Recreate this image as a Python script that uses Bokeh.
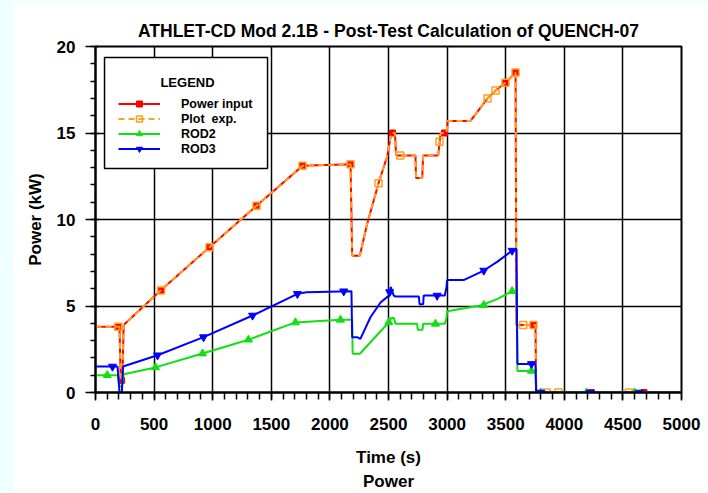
from bokeh.plotting import figure
from bokeh.models import (Legend, LegendItem, Title, SingleIntervalTicker, Range1d, BoxAnnotation)
from bokeh.core.properties import value
from bokeh.embed import file_html
from bokeh.resources import INLINE

FONT = "Liberation Sans"

# ---------------- data ----------------
power_t = [0, 188, 205, 215, 230, 240, 555, 973, 1374, 1766, 2176, 2190, 2255, 2318, 2415, 2491,
           2523, 2555, 2565, 2730, 2735, 2788, 2795, 2924, 2945, 2995, 3005, 3200, 3345, 3413,
           3498, 3584, 3592, 3754, 3760, 5000]
power_kw = [3.8, 3.8, 3.8, 0.7, 0.7, 3.9, 5.9, 8.4, 10.8, 13.1, 13.2, 7.9, 7.9, 9.75, 12.1, 13.7,
            15.0, 15.0, 13.7, 13.7, 12.4, 12.4, 13.7, 13.7, 15.0, 15.0, 15.7, 15.7, 17.0, 17.45,
            17.9, 18.5, 3.9, 3.9, 0.0, 0.0]
power_mk_t = [188, 222, 555, 973, 1374, 1766, 2176, 2535, 2978, 3498, 3584, 3737, 4230, 4680]
power_mk_kw = [3.8, 0.7, 5.9, 8.4, 10.8, 13.1, 13.2, 15.0, 15.0, 17.9, 18.5, 3.9, 0.0, 0.0]

exp_t = [0, 188, 205, 215, 230, 240, 555, 973, 1374, 1766, 2176, 2190, 2255, 2318, 2415, 2491,
         2523, 2555, 2565, 2730, 2735, 2788, 2795, 2924, 2945, 2995, 3005, 3200, 3345, 3413,
         3498, 3584, 3592, 3754, 3760, 5000]
exp_kw = [3.8, 3.8, 3.8, 0.7, 0.7, 3.9, 5.9, 8.4, 10.8, 13.1, 13.2, 7.9, 7.9, 9.75, 12.1, 13.7,
          15.0, 15.0, 13.7, 13.7, 12.4, 12.4, 13.7, 13.7, 15.0, 15.0, 15.7, 15.7, 17.0, 17.45,
          17.9, 18.5, 3.9, 3.9, 0.0, 0.0]
exp_mk_t = [195, 560, 973, 1374, 1766, 2176, 2415, 2600, 2935, 3345, 3413, 3498, 3584, 3650,
            3737, 3850, 3950, 4550]
exp_mk_kw = [3.8, 5.9, 8.4, 10.8, 13.1, 13.2, 12.1, 13.7, 14.5, 17.0, 17.45, 17.9, 18.5, 3.9,
             3.9, 0.0, 0.0, 0.0]

rod2_t = [0, 188, 205, 225, 240, 512, 913, 1305, 1706, 2090, 2190, 2194, 2256, 2503, 2523, 2545,
          2560, 2744, 2750, 2790, 2796, 2980, 2995, 3000, 3285, 3427, 3555, 3592, 3600, 3754,
          3760, 5000]
rod2_kw = [1.0, 1.0, 0.35, 0.35, 1.05, 1.45, 2.25, 3.05, 4.05, 4.2, 4.2, 2.24, 2.24, 4.06, 4.3,
           4.3, 3.97, 3.97, 3.62, 3.62, 3.97, 3.97, 4.3, 4.7, 5.03, 5.4, 5.86, 5.9, 1.25, 1.25,
           0.0, 0.0]
rod2_mk_t = [100, 512, 913, 1305, 1706, 2090, 2503, 2901, 3313, 3555, 3720, 3800, 4190, 4600]
rod2_mk_kw = [1.0, 1.45, 2.25, 3.05, 4.05, 4.2, 4.06, 3.97, 5.05, 5.86, 1.25, 0.0, 0.0, 0.0]

rod3_t = [0, 188, 205, 225, 235, 529, 922, 1340, 1723, 1800, 2184, 2190, 2232, 2260, 2346, 2432,
          2503, 2520, 2545, 2560, 2759, 2765, 2796, 2800, 2980, 2995, 3000, 3141, 3313, 3427,
          3555, 3592, 3600, 3754, 3760, 5000]
rod3_kw = [1.5, 1.5, 0.0, 0.0, 1.5, 2.15, 3.2, 4.45, 5.7, 5.8, 5.85, 3.2, 3.2, 3.1, 4.35, 5.2,
           5.6, 6.1, 5.6, 5.55, 5.55, 5.1, 5.1, 5.6, 5.6, 6.1, 6.5, 6.5, 7.05, 7.55, 8.2, 8.3,
           1.65, 1.65, 0.0, 0.0]
rod3_mk_t = [145, 529, 922, 1340, 1723, 2118, 2510, 2915, 3313, 3555, 3720, 3800, 4220, 4640]
rod3_mk_kw = [1.5, 2.15, 3.2, 4.45, 5.7, 5.85, 5.8, 5.6, 7.05, 8.2, 1.65, 0.0, 0.0, 0.0]

series_names = ["Power input", "Plot  exp.", "ROD2", "ROD3"]
title_text = "ATHLET-CD Mod 2.1B - Post-Test Calculation of QUENCH-07"
x_label = "Time (s)"
y_label = "Power (kW)"
caption = "Power"
legend_title = "LEGEND"

RED, ORANGE, GREEN, BLUE = "#ff0000", "#ffa01e", "#10e010", "#0000ff"

# ---------------- figure ----------------
p = figure(frame_width=586, frame_height=346,
           x_range=Range1d(0, 5000), y_range=Range1d(0, 20),
           output_backend="svg", toolbar_location=None,
           min_border_left=83, min_border_right=27, min_border_top=44, min_border_bottom=101,
           background_fill_color="white", border_fill_color="white")

p.outline_line_color = "black"
p.outline_line_width = 2

p.title.text = title_text
p.title.align = "center"
p.title.text_font = FONT
p.title.text_font_size = "17.5px"
p.title.text_font_style = "bold"
p.title.text_color = "black"
p.title.standoff = 12

p.xaxis.ticker = SingleIntervalTicker(interval=500, num_minor_ticks=5)
p.yaxis.ticker = SingleIntervalTicker(interval=5, num_minor_ticks=5)

for ax in (p.xaxis, p.yaxis):
    ax.axis_line_color = "black"
    ax.axis_line_width = 2
    ax.major_tick_line_color = "black"
    ax.major_tick_line_width = 1.5
    ax.minor_tick_line_color = "black"
    ax.minor_tick_line_width = 1.5
    ax.major_label_text_font = FONT
    ax.major_label_text_font_size = "17px"
    ax.major_label_text_font_style = "bold"
    ax.major_label_text_color = "black"
    ax.axis_label_text_font = FONT
    ax.axis_label_text_font_size = "17px"
    ax.axis_label_text_font_style = "bold"
    ax.axis_label_text_color = "black"

p.xaxis.axis_label = x_label
p.xaxis.major_tick_out = 8
p.xaxis.major_tick_in = 0
p.xaxis.minor_tick_out = 7
p.xaxis.minor_tick_in = 0
p.xaxis.major_label_standoff = 17
p.xaxis.axis_label_standoff = 15

p.yaxis.axis_label = y_label
p.yaxis.major_tick_out = 10
p.yaxis.major_tick_in = 3
p.yaxis.minor_tick_out = 5
p.yaxis.minor_tick_in = 0
p.yaxis.major_label_standoff = 10
p.yaxis.axis_label_standoff = 9

for g in (p.xgrid, p.ygrid):
    g.grid_line_color = "black"
    g.grid_line_width = 1.5

# white panel behind the legend (drawn over the grid, under the legend)
p.add_layout(BoxAnnotation(left=77, right=1468, bottom=12.95, top=19.36,
                           fill_color="white", fill_alpha=1.0,
                           line_color="black", line_width=1.5, line_alpha=1.0,
                           level="underlay"))
p.text(x=[785], y=[17.92], text=[legend_title], text_align="center", text_baseline="middle",
       text_font=value(FONT), text_font_size="13px", text_font_style="bold", text_color="black")

# ---------------- series ----------------
r1 = p.line(power_t, power_kw, line_color=RED, line_width=2)
m1 = p.scatter(power_mk_t, power_mk_kw, marker="square", size=6, fill_color=RED, line_color=RED)
r2 = p.line(exp_t, exp_kw, line_color=ORANGE, line_width=2, line_dash="6 4")
m2 = p.scatter(exp_mk_t, exp_mk_kw, marker="square", size=7, fill_color=None,
               line_color=ORANGE, line_width=1.5)
r3 = p.line(rod2_t, rod2_kw, line_color=GREEN, line_width=2)
m3 = p.scatter(rod2_mk_t, rod2_mk_kw, marker="triangle", size=8, fill_color=GREEN, line_color=GREEN)
r4 = p.line(rod3_t, rod3_kw, line_color=BLUE, line_width=2)
m4 = p.scatter(rod3_mk_t, rod3_mk_kw, marker="inverted_triangle", size=8, fill_color=BLUE,
               line_color=BLUE)

legend = Legend(
    items=[LegendItem(label=series_names[0], renderers=[r1, m1]),
           LegendItem(label=series_names[1], renderers=[r2, m2]),
           LegendItem(label=series_names[2], renderers=[r3, m3]),
           LegendItem(label=series_names[3], renderers=[r4, m4])],
    location=(9, 222), title=legend_title,
    title_text_alpha=0, title_text_font_size="12px", title_standoff=5,
    label_text_font=FONT, label_text_font_size="12.5px", label_text_font_style="bold",
    label_text_color="black",
    glyph_width=42, glyph_height=15, label_height=15, spacing=0, label_standoff=21,
    padding=14, margin=0,
    border_line_alpha=0, background_fill_alpha=0.0,
)
p.add_layout(legend)

p.add_layout(Title(text=caption, align="center", text_font=FONT, text_font_size="17px",
                   text_font_style="bold", text_color="black", standoff=1), "below")

html = file_html(p, INLINE)
style = ("<style>html, body { background-color: #effefe !important; }"
         " body { padding: 2px 0 0 12px !important; box-sizing: border-box; }</style>")
html = html.replace("</head>", style + "</head>", 1)
open("out.html", "w").write(html)
